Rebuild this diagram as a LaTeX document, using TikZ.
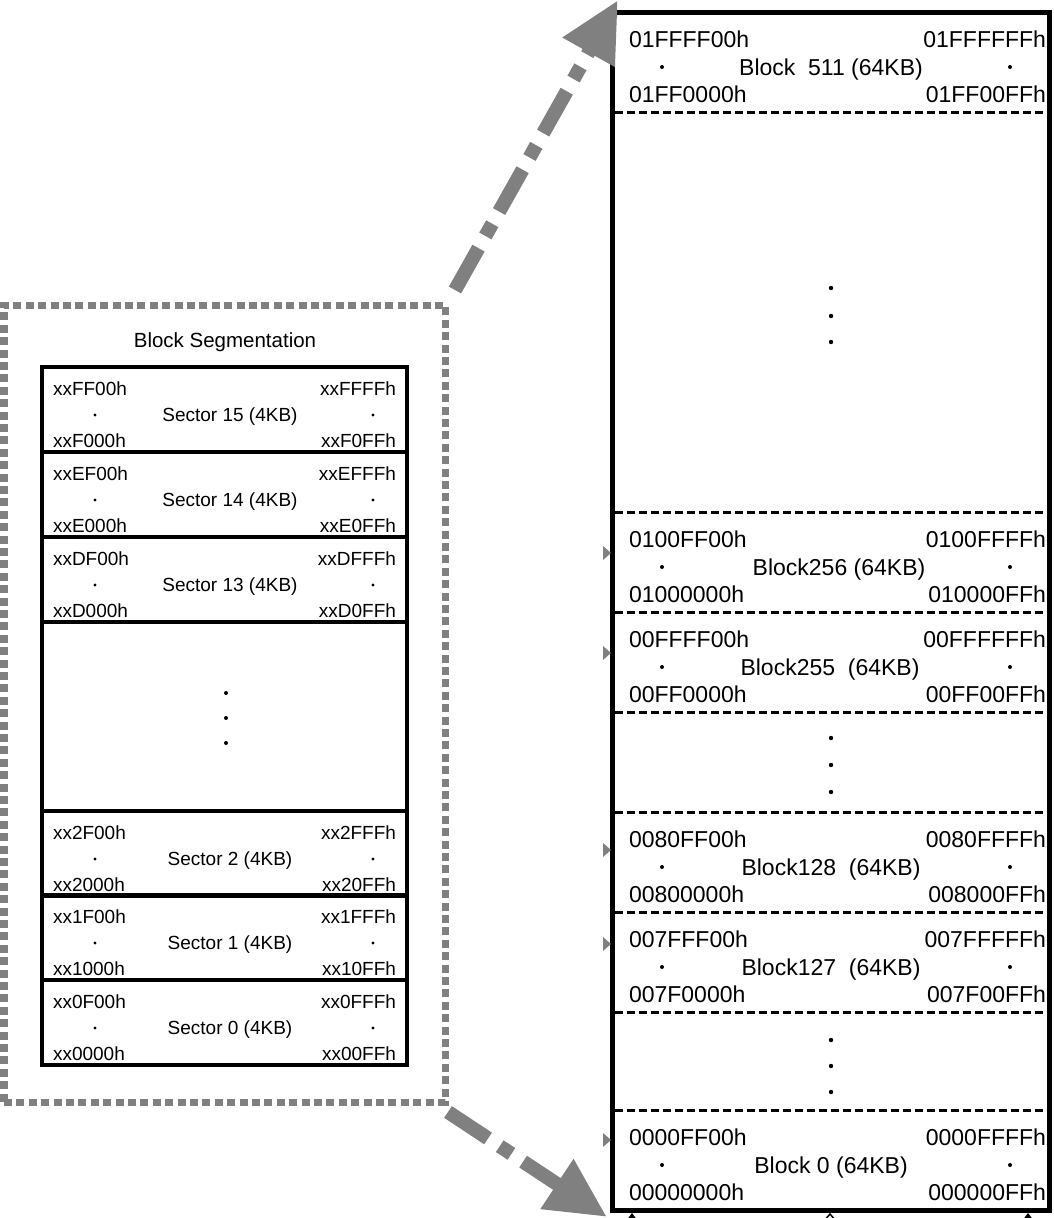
\documentclass[tikz,border=0pt]{standalone}
\usepackage{fontspec}
\setmainfont{Liberation Sans}
\usetikzlibrary{arrows.meta,positioning}
\definecolor{markgray}{RGB}{128,128,128}

\begin{document}
\begin{tikzpicture}[x=1pt,y=-1pt,
    every node/.style={inner sep=0pt,outer sep=0pt},
    sectxt/.style={font=\fontsize{19}{22}\selectfont,text height=13.6pt,text depth=0pt},
    blktxt/.style={font=\fontsize{23}{27}\selectfont,text height=16.5pt,text depth=0pt},
    titletxt/.style={font=\fontsize{20.5}{24}\selectfont,text height=14.7pt,text depth=0pt},
    sector/.style={draw,line width=3.5pt,minimum width=365pt,anchor=north west},
    segframe/.style={draw=markgray,line width=7pt,dash pattern=on 8pt off 4.4pt,anchor=north west},
    flashbox/.style={draw,fill=white,line width=5pt,anchor=north west},
    divider/.style={line width=3pt,dash pattern=on 8pt off 4pt},
    zoomarrow/.style={draw=markgray,line width=14pt,
      dash pattern=on 48pt off 14pt on 14pt off 14pt,
      -{Triangle[length=60pt,width=56pt]}}]
  \useasboundingbox (0,0) rectangle (1053,1218);

  % block segmentation
  \node[segframe,minimum width=441pt,minimum height=797pt] (seg) at (4,305) {};
  \node[titletxt] (segtitle) at (225,340) {Block Segmentation};
  \foreach \ry/\n/\hx in {367/15/F,452/14/E,537/13/D,811/2/2,895/1/1,980/0/0} {
    \node[sector,minimum height=85pt] (sec\n) at (42,\ry) {};
    \node[sectxt,anchor=west] (sec\n tl) at (53,\ry+22) {xx\hx F00h};
    \node[sectxt,anchor=east] (sec\n tr) at (396,\ry+22) {xx\hx FFFh};
    \node[sectxt] (sec\n lbl) at (230,\ry+48) {Sector \n\ (4KB)};
    \fill (95,\ry+48) circle (1.7) (373,\ry+48) circle (1.7);
    \node[sectxt,anchor=west] (sec\n bl) at (53,\ry+74) {xx\hx 000h};
    \node[sectxt,anchor=east] (sec\n br) at (396,\ry+74) {xx\hx 0FFh};
  }
  \node[sector,minimum height=189pt] (secgap) at (42,622) {};
  \foreach \dy in {693,718,743}
    \fill (226,\dy) circle (2);

  % flash array
  \node[flashbox,minimum width=437pt,minimum height=1198pt] (flash) at (612,12) {};
  \foreach \dy in {112,512,612,712,812,912,1012,1110}
    \draw[divider] (614.5,\dy) -- (1046.5,\dy);
  \foreach \ry/\tl/\tr/\lbl/\bl/\br/\cx in {
      12/01FFFF00h/01FFFFFFh/Block\ \ 511 (64KB)/01FF0000h/01FF00FFh/831,
      512/0100FF00h/0100FFFFh/Block256 (64KB)/01000000h/010000FFh/839,
      612/00FFFF00h/00FFFFFFh/Block255\ \ (64KB)/00FF0000h/00FF00FFh/830,
      812/0080FF00h/0080FFFFh/Block128\ \ (64KB)/00800000h/008000FFh/831,
      912/007FFF00h/007FFFFFh/Block127\ \ (64KB)/007F0000h/007F00FFh/831,
      1110/0000FF00h/0000FFFFh/Block 0 (64KB)/00000000h/000000FFh/831} {
    \node[blktxt,anchor=west] (blk\ry tl) at (629,\ry+27) {\tl};
    \node[blktxt,anchor=east] (blk\ry tr) at (1046,\ry+27) {\tr};
    \node[blktxt] (blk\ry) at (\cx,\ry+55) {\lbl};
    \fill (662,\ry+55) circle (2) (1010,\ry+55) circle (2);
    \node[blktxt,anchor=west] (blk\ry bl) at (629,\ry+82) {\bl};
    \node[blktxt,anchor=east] (blk\ry br) at (1046,\ry+82) {\br};
  }
  \foreach \dy in {288,316,342,738,765,792,1040,1066,1092}
    \fill (831,\dy) circle (2.2);

  % small marks on the array edges
  \foreach \my in {553,653,850,944,1140}
    \fill[markgray] (603,\my-7) -- (611,\my) -- (603,\my+7) -- cycle;
  \foreach \mx in {632,1028}
    \fill (\mx-6,1221) -- (\mx,1213) -- (\mx+6,1221) -- cycle;
  \draw[line width=1.5pt] (824,1221) -- (830,1214) -- (836,1221);

  % zoom arrows
  \coordinate (uptail) at ([shift={(10,-15)}]seg.north east);
  \coordinate (uphead) at ([shift={(6,-12)}]flash.north west);
  \coordinate (dntail) at ([shift={(3,10)}]seg.south east);
  \coordinate (dnhead) at ([shift={(-5,7)}]flash.south west);
  \begin{scope}
    \clip (0,0) rectangle (617,1218);
    \draw[zoomarrow] (uptail) -- (uphead);
  \end{scope}
  \draw[zoomarrow] (dntail) -- (dnhead);
\end{tikzpicture}
\end{document}
